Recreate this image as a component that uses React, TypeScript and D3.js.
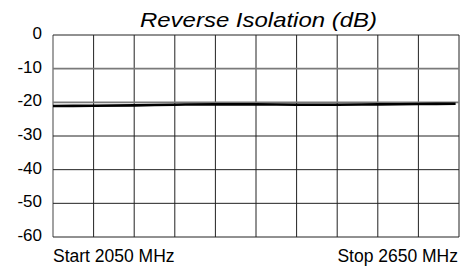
import React, { useRef, useEffect } from 'react';
import * as d3 from 'd3';

const title = 'Reverse Isolation (dB)';
const startLabel = 'Start 2050 MHz';
const stopLabel = 'Stop 2650 MHz';
const yTicks = [0, -10, -20, -30, -40, -50, -60];
const freqs = [2050, 2110, 2170, 2230, 2290, 2350, 2410, 2470, 2530, 2590, 2645];
const isolation = [-21.1, -21.0, -20.9, -20.7, -20.6, -20.6, -20.7, -20.7, -20.6, -20.5, -20.4];

export default function App() {
  const d3Container = useRef<SVGSVGElement>(null);

  useEffect(() => {
    if (!d3Container.current) return;
    const width = 462;
    const height = 266;
    const margin = { top: 35, right: 3, bottom: 29, left: 53 };

    const svg = d3.select(d3Container.current);
    svg.selectAll('*').remove();

    const xScale = d3
      .scaleLinear()
      .domain([2050, 2650])
      .range([margin.left, width - margin.right]);

    const yScale = d3
      .scaleLinear()
      .domain([-60, 0])
      .range([height - margin.bottom, margin.top]);

    // vertical grid, 10 divisions
    const xGrid = d3.range(0, 11).map(i => 2050 + i * 60);
    svg
      .append('g')
      .selectAll('line')
      .data(xGrid)
      .enter()
      .append('line')
      .attr('x1', d => xScale(d))
      .attr('x2', d => xScale(d))
      .attr('y1', yScale(0))
      .attr('y2', yScale(-60))
      .attr('stroke', (d, i) => (i === 0 ? '#8a8a8a' : '#222'))
      .attr('stroke-width', (d, i) => (i === 0 ? 1.6 : 1));

    // horizontal grid
    svg
      .append('g')
      .selectAll('line')
      .data(yTicks)
      .enter()
      .append('line')
      .attr('x1', xScale(2050))
      .attr('x2', xScale(2650))
      .attr('y1', d => yScale(d))
      .attr('y2', d => yScale(d))
      .attr('stroke', d => (d === -10 || d === -20 ? '#7a7a7a' : '#222'))
      .attr('stroke-width', d => (d === -10 || d === -20 ? 1.6 : 1));

    // y labels
    svg
      .append('g')
      .selectAll('text')
      .data(yTicks)
      .enter()
      .append('text')
      .attr('x', 42)
      .attr('y', d => yScale(d) + 4)
      .attr('text-anchor', 'end')
      .attr('font-family', 'Liberation Sans, Arial, sans-serif')
      .attr('font-size', 17)
      .attr('fill', '#000')
      .text(d => `${d}`);

    // trace
    const line = d3
      .line<number>()
      .x((d, i) => xScale(freqs[i]))
      .y(d => yScale(d))
      .curve(d3.curveMonotoneX);

    svg
      .append('path')
      .datum(isolation)
      .attr('d', line)
      .attr('fill', 'none')
      .attr('stroke', '#000')
      .attr('stroke-width', 2.6);

    svg
      .append('text')
      .attr('x', 140)
      .attr('y', 26.5)
      .attr('font-family', 'Liberation Sans, Arial, sans-serif')
      .attr('font-style', 'italic')
      .attr('font-size', 21)
      .attr('textLength', 237)
      .attr('lengthAdjust', 'spacingAndGlyphs')
      .attr('fill', '#000')
      .text(title);

    svg
      .append('text')
      .attr('x', 53)
      .attr('y', 262)
      .attr('font-family', 'Liberation Sans, Arial, sans-serif')
      .attr('font-size', 17.5)
      .attr('fill', '#000')
      .text(startLabel);

    svg
      .append('text')
      .attr('x', 458)
      .attr('y', 262)
      .attr('text-anchor', 'end')
      .attr('font-family', 'Liberation Sans, Arial, sans-serif')
      .attr('font-size', 17.5)
      .attr('fill', '#000')
      .text(stopLabel);
  }, []);

  return (
    <svg
      ref={d3Container}
      width={462}
      height={266}
      style={{ position: 'absolute', left: 0, top: 0, background: '#fff' }}
    />
  );
}
